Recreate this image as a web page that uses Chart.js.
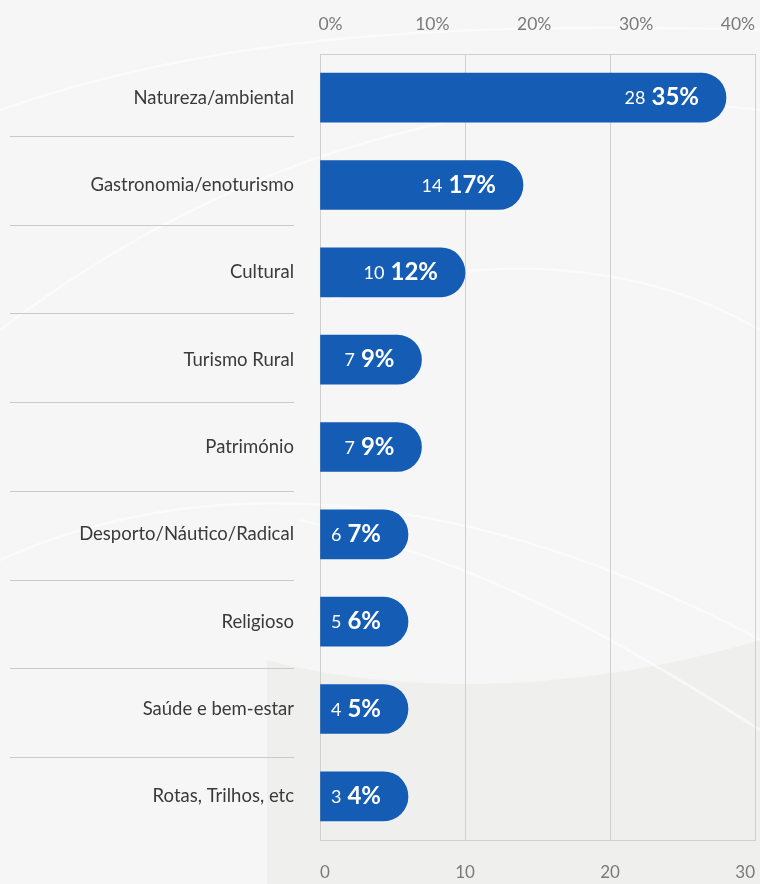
<!DOCTYPE html>
<html>
<head>
<meta charset="utf-8">
<script src="https://cdn.jsdelivr.net/npm/chart.js@4.4.1/dist/chart.umd.min.js"></script>
<style>
  html, body { margin: 0; padding: 0; background: #f3f4f3; }
  #wrap { width: 760px; height: 884px; position: relative; }
</style>
</head>
<body>
<div id="wrap"><canvas id="tipos"></canvas></div>
<script>
// tipos de turismo: contagem de respostas e percentagem
const categorias = ['Natureza/ambiental', 'Gastronomia/enoturismo', 'Cultural', 'Turismo Rural',
  'Património', 'Desporto/Náutico/Radical', 'Religioso', 'Saúde e bem-estar', 'Rotas, Trilhos, etc'];
const contagens = [28, 14, 10, 7, 7, 6, 5, 4, 3];
const percentagens = [35, 17, 12, 9, 9, 7, 6, 5, 4];
const ticksPct = [0, 10, 20, 30, 40];
const ticksContagem = [0, 10, 20, 30];

const azul = '#155cb4';
const cinzaGrelha = '#cfcfcf';
const fonte = 'Lato, "Noto Sans", sans-serif';

// fundo claro com algumas curvas suaves
const fundo = {
  id: 'fundo',
  beforeDraw(chart) {
    const ctx = chart.ctx, w = chart.width, h = chart.height;
    ctx.save();
    ctx.fillStyle = '#eff0ee';
    ctx.fillRect(0, 0, w, h);
    ctx.fillStyle = '#f6f6f6';
    ctx.beginPath();
    ctx.moveTo(0, 0);
    ctx.lineTo(w, 0);
    ctx.lineTo(w, 640);
    ctx.bezierCurveTo(560, 700, 380, 690, 267, 660);
    ctx.lineTo(267, h);
    ctx.lineTo(0, h);
    ctx.closePath();
    ctx.fill();
    ctx.strokeStyle = 'rgba(255,255,255,0.55)';
    ctx.lineWidth = 2.5;
    const curvas = [
      [0, 110, 200, 40, 420, 20, 760, 30],
      [0, 330, 250, 140, 520, 80, 760, 110],
      [330, 300, 480, 250, 640, 260, 760, 330],
      [0, 560, 200, 470, 460, 480, 760, 640],
      [300, 520, 480, 560, 620, 640, 760, 730]
    ];
    curvas.forEach(c => {
      ctx.beginPath();
      ctx.moveTo(c[0], c[1]);
      ctx.bezierCurveTo(c[2], c[3], c[4], c[5], c[6], c[7]);
      ctx.stroke();
    });
    ctx.restore();
  }
};

// linhas separadoras à esquerda, entre as categorias
const separadores = {
  id: 'separadores',
  afterDraw(chart) {
    const ctx = chart.ctx, y = chart.scales.y;
    ctx.save();
    ctx.strokeStyle = '#c9c9c9';
    ctx.lineWidth = 1;
    for (let i = 0; i < categorias.length - 1; i++) {
      const meio = (y.getPixelForValue(i) + y.getPixelForValue(i + 1)) / 2;
      const py = Math.round(meio - 5.6 + i * 1.46) + 0.5;
      ctx.beginPath();
      ctx.moveTo(10, py);
      ctx.lineTo(294, py);
      ctx.stroke();
    }
    ctx.restore();
  }
};

// contagem + percentagem dentro de cada barra
const rotulos = {
  id: 'rotulos',
  afterDatasetsDraw(chart) {
    const ctx = chart.ctx;
    const barras = chart.getDatasetMeta(0).data;
    ctx.save();
    ctx.fillStyle = '#ffffff';
    ctx.textBaseline = 'middle';
    ctx.textAlign = 'right';
    barras.forEach((b, i) => {
      const xFim = b.x - 27;
      const pct = percentagens[i] + '%';
      ctx.font = 'bold 24px ' + fonte;
      ctx.fillText(pct, xFim, b.y);
      const wPct = ctx.measureText(pct).width;
      ctx.font = '18px ' + fonte;
      ctx.fillText(String(contagens[i]), xFim - wPct - 6, b.y + 1);
    });
    ctx.restore();
  }
};

new Chart(document.getElementById('tipos'), {
  type: 'bar',
  data: {
    labels: categorias,
    datasets: [{
      data: contagens,
      backgroundColor: azul,
      barThickness: 49,
      minBarLength: 88,
      borderSkipped: 'start',
      borderRadius: { topLeft: 0, bottomLeft: 0, topRight: 25, bottomRight: 25 }
    }]
  },
  options: {
    indexAxis: 'y',
    responsive: true,
    maintainAspectRatio: false,
    animation: false,
    layout: { padding: { top: 0, right: 5, bottom: 0, left: 0 } },
    plugins: { legend: { display: false }, tooltip: { enabled: false } },
    scales: {
      x: {
        position: 'bottom',
        min: 0,
        max: 30,
        afterBuildTicks(s) { s.ticks = ticksContagem.map(v => ({ value: v })); },
        afterFit(s) { s.height = 44; s.paddingLeft = 0; s.paddingRight = 0; },
        grid: { color: cinzaGrelha, drawTicks: false },
        border: { display: true, color: cinzaGrelha },
        ticks: { align: 'inner', padding: 22, color: '#7a7a7a', font: { family: fonte, size: 17 } }
      },
      x2: {
        type: 'linear',
        position: 'top',
        min: -1.03,
        max: 41.68,
        afterBuildTicks(s) { s.ticks = ticksPct.map(v => ({ value: v })); },
        afterFit(s) { s.height = 54; s.paddingLeft = 0; s.paddingRight = 0; },
        grid: { display: false, drawTicks: false },
        border: { display: true, color: cinzaGrelha },
        ticks: {
          padding: 19,
          color: '#7a7a7a',
          font: { family: fonte, size: 17.5 },
          callback: v => v + '%'
        }
      },
      y: {
        afterFit(s) { s.width = 320; },
        grid: { display: false, drawTicks: false },
        border: { display: false },
        ticks: { padding: 26, color: '#3a3a3a', font: { family: fonte, size: 18.5 } }
      }
    }
  },
  plugins: [fundo, separadores, rotulos]
});
</script>
</body>
</html>
